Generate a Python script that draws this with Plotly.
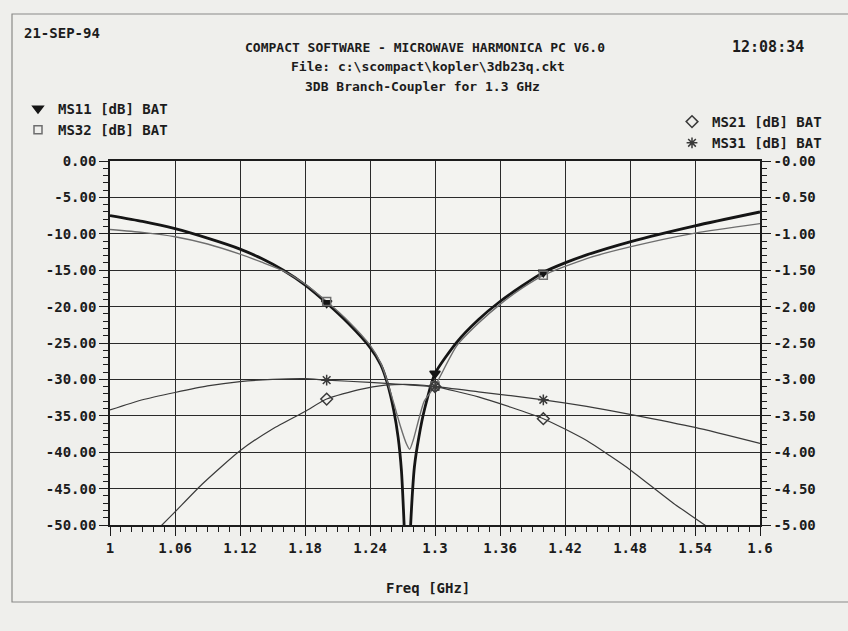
import plotly.graph_objects as go

# ---------------- data ----------------
# MS11 [dB] (left axis)
f_ms11 = [1.00, 1.03, 1.06, 1.09, 1.12, 1.14, 1.16, 1.18, 1.20, 1.22, 1.24, 1.25, 1.256,
          1.262, 1.266, 1.269, 1.2715, 1.2745, 1.2775, 1.281, 1.285, 1.2905, 1.30, 1.32,
          1.34, 1.36, 1.38, 1.40, 1.42, 1.44, 1.48, 1.54, 1.60]
ms11 = [-7.5, -8.3, -9.3, -10.6, -12.1, -13.4, -15.0, -17.0, -19.5, -22.3, -25.6, -28.0, -30.5,
        -34.3, -38.0, -42.5, -50.0, -62.0, -50.0, -42.0, -38.0, -34.0, -29.2, -24.9,
        -21.8, -19.3, -17.2, -15.3, -14.0, -12.9, -11.1, -8.9, -7.0]

# MS32 [dB] (left axis)
f_ms32 = [1.00, 1.03, 1.06, 1.09, 1.12, 1.14, 1.16, 1.18, 1.20, 1.22, 1.24, 1.25, 1.255,
          1.262, 1.268, 1.2735, 1.2766, 1.280, 1.285, 1.29, 1.30, 1.32, 1.34, 1.36, 1.38,
          1.40, 1.44, 1.48, 1.54, 1.60]
ms32 = [-9.4, -9.8, -10.4, -11.4, -12.8, -13.9, -15.1, -16.9, -19.3, -22.0, -25.3, -27.8, -29.8,
        -33.3, -36.4, -38.8, -39.6, -38.3, -35.5, -33.0, -30.9, -25.4, -22.3, -19.7, -17.5,
        -15.7, -13.4, -11.8, -9.9, -8.6]

# MS21 [dB] (right axis)
f_ms21 = [1.04, 1.048, 1.06, 1.085, 1.12, 1.15, 1.18, 1.20, 1.23, 1.254, 1.28, 1.30,
          1.34, 1.40, 1.44, 1.4615, 1.48, 1.52, 1.549, 1.56]
ms21 = [-5.12, -5.00, -4.82, -4.44, -3.98, -3.68, -3.44, -3.27, -3.14, -3.08, -3.07, -3.10,
        -3.24, -3.54, -3.84, -4.05, -4.24, -4.70, -5.00, -5.13]

# MS31 [dB] (right axis)
f_ms31 = [1.00, 1.03, 1.06, 1.09, 1.12, 1.15, 1.18, 1.20, 1.24, 1.27, 1.30, 1.34,
          1.40, 1.44, 1.48, 1.54, 1.60]
ms31 = [-3.42, -3.28, -3.18, -3.09, -3.03, -3.00, -2.99, -3.01, -3.04, -3.07, -3.10, -3.17,
        -3.28, -3.37, -3.48, -3.66, -3.88]

marker_freqs = [1.2, 1.3, 1.4]

x_ticks = [1.0, 1.06, 1.12, 1.18, 1.24, 1.3, 1.36, 1.42, 1.48, 1.54, 1.6]
x_ticktext = ["1", "1.06", "1.12", "1.18", "1.24", "1.3", "1.36", "1.42", "1.48", "1.54", "1.6"]
yl_ticks = [0, -5, -10, -15, -20, -25, -30, -35, -40, -45, -50]
yl_ticktext = ["0.00", "-5.00", "-10.00", "-15.00", "-20.00", "-25.00", "-30.00",
               "-35.00", "-40.00", "-45.00", "-50.00"]
yr_ticks = [0, -0.5, -1, -1.5, -2, -2.5, -3, -3.5, -4, -4.5, -5]
yr_ticktext = ["-0.00", "-0.50", "-1.00", "-1.50", "-2.00", "-2.50", "-3.00",
               "-3.50", "-4.00", "-4.50", "-5.00"]

# ---------------- figure ----------------
FONT = "DejaVu Sans Mono"
INK = "#1c1c1c"


def pick(fs, vs):
    xs, ys = [], []
    for f, v in zip(fs, vs):
        if any(abs(f - m) < 1e-9 for m in marker_freqs):
            xs.append(f)
            ys.append(v)
    return xs, ys


fig = go.Figure()

series = [
    ("MS11 [dB] BAT", f_ms11, ms11, "y", "#151515", 2.8, "triangle-down", 9, "legend"),
    ("MS32 [dB] BAT", f_ms32, ms32, "y", "#6e6e6e", 1.4, "square-open", 8, "legend"),
    ("MS21 [dB] BAT", f_ms21, ms21, "y2", "#3a3a3a", 1.2, "diamond-open", 9, "legend2"),
    ("MS31 [dB] BAT", f_ms31, ms31, "y2", "#3a3a3a", 1.2, "asterisk-open", 9, "legend2"),
]

for name, fs, vs, yax, col, lw, sym, msz, leg in series:
    fig.add_trace(go.Scatter(x=fs, y=vs, yaxis=yax, mode="lines",
                             line=dict(color=col, width=lw, shape="spline", smoothing=0.6),
                             showlegend=False, hoverinfo="skip"))
for name, fs, vs, yax, col, lw, sym, msz, leg in series:
    mx, my = pick(fs, vs)
    fig.add_trace(go.Scatter(x=mx, y=my, yaxis=yax, mode="markers", name=name,
                             legend=leg,
                             marker=dict(symbol=sym, size=msz, color=col,
                                         line=dict(color=col, width=1.5))))

W, H = 848, 631
L, R, T, B = 110, 88, 161, 106
pw, ph = W - L - R, H - T - B


def px(xp):
    return (xp - L) / pw


def py(yp):
    return (H - B - yp) / ph


axis_font = dict(family=FONT, size=14, color=INK, weight="bold")

fig.update_layout(
    width=W, height=H,
    margin=dict(l=L, r=R, t=T, b=B, autoexpand=False),
    paper_bgcolor="#efefec",
    plot_bgcolor="#f3f3f0",
    font=dict(family=FONT, color=INK, weight="bold"),
    xaxis=dict(range=[1.0, 1.6], tickmode="array", tickvals=x_ticks, ticktext=x_ticktext,
               tickangle=0, automargin=False,
               showgrid=True, gridcolor="#2a2a2a", gridwidth=1.3,
               showline=True, linecolor=INK, linewidth=1.6, mirror=True,
               ticks="outside", ticklen=9, tickwidth=1.4, tickcolor=INK,
               tickfont=axis_font, zeroline=False,
               minor=dict(tickmode="linear", tick0=1.0, dtick=0.01, ticks="outside",
                          ticklen=5, tickwidth=1.2, tickcolor=INK, showgrid=False)),
    yaxis=dict(range=[-50, 0], tickmode="array", tickvals=yl_ticks, ticktext=yl_ticktext,
               automargin=False,
               showgrid=True, gridcolor="#2a2a2a", gridwidth=1.3,
               showline=True, linecolor=INK, linewidth=1.6,
               ticks="outside", ticklen=9, tickwidth=1.4, tickcolor=INK,
               tickfont=axis_font, zeroline=False,
               minor=dict(tickmode="linear", tick0=0, dtick=1, ticks="outside",
                          ticklen=5, tickwidth=1.2, tickcolor=INK, showgrid=False)),
    yaxis2=dict(range=[-5, 0], overlaying="y", side="right", tickmode="array",
                tickvals=yr_ticks, ticktext=yr_ticktext, showgrid=False, automargin=False,
                showline=True, linecolor=INK, linewidth=1.6,
                ticks="outside", ticklen=9, tickwidth=1.4, tickcolor=INK,
                tickfont=axis_font, zeroline=False,
                minor=dict(tickmode="linear", tick0=0, dtick=0.1, ticks="outside",
                           ticklen=5, tickwidth=1.2, tickcolor=INK, showgrid=False)),
    legend=dict(xref="container", yref="container", x=18 / W, y=1 - 93 / H,
                xanchor="left", yanchor="top", bgcolor="rgba(0,0,0,0)",
                font=dict(family=FONT, size=14, color=INK, weight="bold"),
                itemwidth=30, tracegroupgap=0),
    legend2=dict(xref="container", yref="container", x=672 / W, y=1 - 106 / H,
                 xanchor="left", yanchor="top", bgcolor="rgba(0,0,0,0)",
                 font=dict(family=FONT, size=14, color=INK, weight="bold"),
                 itemwidth=30, tracegroupgap=0),
    showlegend=True,
)

ann = [
    ("21-SEP-94", 22, 33, "left", 14),
    ("COMPACT SOFTWARE - MICROWAVE HARMONICA PC V6.0", 425, 47, "center", 13),
    ("File: c:\\scompact\\kopler\\3db23q.ckt", 428, 66, "center", 13),
    ("3DB Branch-Coupler for 1.3 GHz", 422, 86, "center", 13),
    ("12:08:34", 806, 47, "right", 15),
    ("Freq [GHz]", 428, 588, "center", 14),
]
for text, x, y, anc, size in ann:
    fig.add_annotation(text=text, xref="paper", yref="paper", x=px(x), y=py(y),
                       xanchor=anc, yanchor="middle", showarrow=False,
                       font=dict(family=FONT, size=size, color=INK, weight="bold"))

# printed-figure frame
fig.add_shape(type="rect", xref="paper", yref="paper",
              x0=px(12), x1=px(1000), y0=py(602), y1=py(14),
              line=dict(color="#8a8a88", width=1.2), layer="below")

fig.write_html("out.html")
